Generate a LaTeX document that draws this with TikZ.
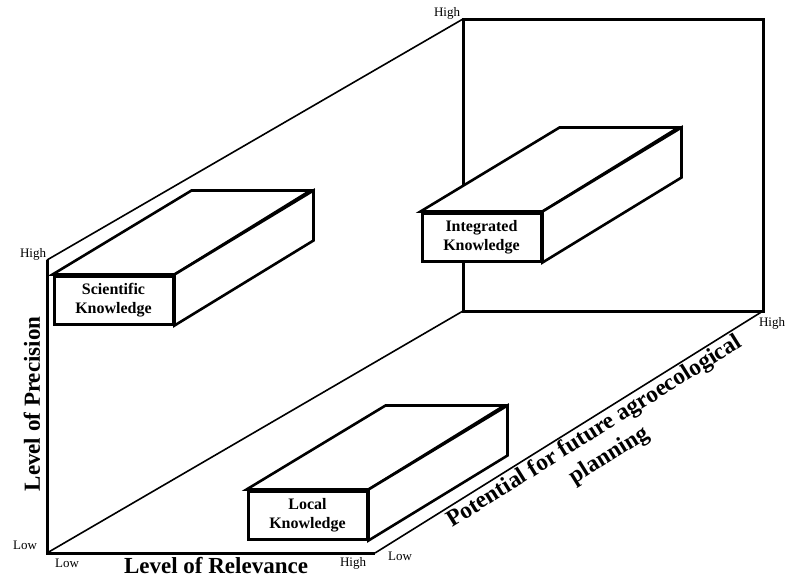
\documentclass[tikz,border=0pt]{standalone}
\usepackage{fontspec}
\setmainfont{Liberation Serif}
\begin{document}
\begin{tikzpicture}[x=1pt,y=-1pt,
  thickline/.style={line width=3pt},
  thinline/.style={line width=1.6pt},
  smalllbl/.style={font=\fontsize{13}{15}\selectfont, inner sep=0pt},
  axislbl/.style={font=\fontsize{23}{27}\selectfont\bfseries, inner sep=0pt},
  facebox/.style={draw, line width=3pt, fill=white, minimum width=119pt, minimum height=48pt, inner sep=0pt, align=center, font=\fontsize{16}{18.5}\selectfont\bfseries},
  sideface/.style={draw, line width=2.6pt, fill=white, line join=miter}
]
\useasboundingbox (0,0) rectangle (786,579);

% corners
\coordinate (fhigh) at (47,260);
\coordinate (flow) at (47,553);
\coordinate (frel) at (375,553);
\coordinate (btl) at (463,19);
\coordinate (btr) at (763,19);
\coordinate (bbr) at (763,311);
\coordinate (bbl) at (463,311);

% thin receding lines
\draw[thinline] (fhigh) -- (btl);
\draw[thinline] (flow) -- (bbl);
\draw[thinline] (frel) -- (bbr);

% back square
\draw[thickline, line join=miter] (btl) -- (btr) -- (bbr) -- (bbl) -- cycle;

% front axes
\draw[thickline, line join=miter] (fhigh) -- (flow) -- (frel);

% boxes
\node[facebox] (sci) at (113.5,300) {Scientific\\Knowledge};
\draw[sideface] (sci.north west) -- ++(139,-84) -- ++(119,0) -- (sci.north east) -- cycle;
\draw[sideface] (sci.north east) -- ++(139,-84) -- ++(0,50) -- (sci.south east) -- cycle;
\node[facebox] (sci) at (113.5,300) {Scientific\\Knowledge};

\node[facebox] (int) at (481.5,237) {Integrated\\Knowledge};
\draw[sideface] (int.north west) -- ++(139,-84) -- ++(119,0) -- (int.north east) -- cycle;
\draw[sideface] (int.north east) -- ++(139,-84) -- ++(0,50) -- (int.south east) -- cycle;
\node[facebox] (int) at (481.5,237) {Integrated\\Knowledge};

\node[facebox] (loc) at (307.5,515) {Local\\Knowledge};
\draw[sideface] (loc.north west) -- ++(139,-84) -- ++(119,0) -- (loc.north east) -- cycle;
\draw[sideface] (loc.north east) -- ++(139,-84) -- ++(0,50) -- (loc.south east) -- cycle;
\node[facebox] (loc) at (307.5,515) {Local\\Knowledge};

% small labels
\node[smalllbl] (l1) at (33,254) {High};
\node[smalllbl] (l2) at (25,545) {Low};
\node[smalllbl] (l3) at (67,563) {Low};
\node[smalllbl] (l4) at (353,563) {High};
\node[smalllbl] (l5) at (400,556) {Low};
\node[smalllbl] (l6) at (772,323) {High};
\node[smalllbl] (l7) at (447,13) {High};

% axis labels
\node[axislbl, rotate=90] (prec) at (32,404) {Level of Precision};
\node[axislbl] (rel) at (216,566) {Level of Relevance};
\node[axislbl, rotate=32, align=center, font=\fontsize{23.5}{28}\selectfont\bfseries] (pot) at (602,444) {Potential for future agroecological\\planning};
\end{tikzpicture}
\end{document}
